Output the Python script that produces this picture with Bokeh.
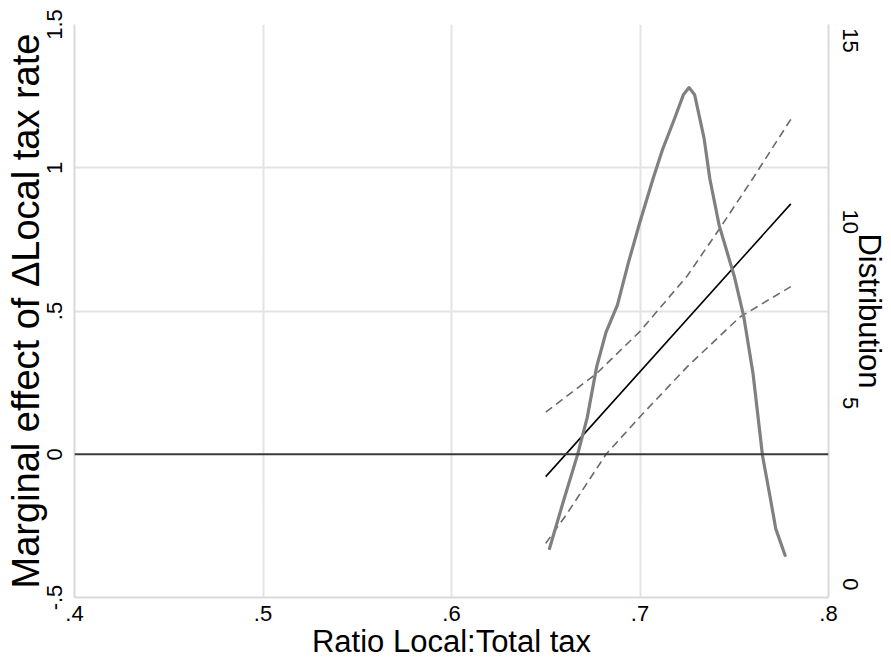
from bokeh.plotting import figure
from bokeh.models import (Range1d, LinearAxis, FixedTicker, CustomJSTickFormatter, Span)
from bokeh.embed import file_html
from bokeh.resources import INLINE

# ---- data ----
x_ticks = [0.4, 0.5, 0.6, 0.7, 0.8]
x_tick_labels = [".4", ".5", ".6", ".7", ".8"]
y_ticks = [-0.5, 0.0, 0.5, 1.0, 1.5]
y_tick_labels = ["-.5", "0", ".5", "1", "1.5"]
y2_ticks = [0, 5, 10, 15]
y2_tick_labels = ["0", "5", "10", "15"]

x_title = "Ratio Local:Total tax"
y_title = "Marginal effect of \u0394Local tax rate"
y2_title = "Distribution"

me_x = [0.650, 0.780]
me_y = [-0.078, 0.874]

upper_x = [0.650, 0.677, 0.700, 0.725, 0.7425, 0.760, 0.780]
upper_y = [0.147, 0.282, 0.429, 0.622, 0.790, 0.964, 1.169]
lower_x = [0.650, 0.661, 0.682, 0.700, 0.725, 0.753, 0.780]
lower_y = [-0.311, -0.21, 0.0, 0.131, 0.305, 0.479, 0.585]

dens_x = [0.652, 0.659, 0.667, 0.672, 0.677, 0.682, 0.688, 0.694, 0.700, 0.707,
          0.712, 0.718, 0.723, 0.726, 0.729, 0.734, 0.737, 0.742, 0.750, 0.755,
          0.760, 0.765, 0.769, 0.772, 0.777]
dens_y = [0.99, 2.23, 3.6, 4.6, 6.0, 6.96, 7.7, 8.9, 10.0, 11.2,
          12.0, 12.8, 13.5, 13.7, 13.5, 12.3, 11.2, 9.9, 8.5, 7.4,
          5.8, 3.55, 2.42, 1.54, 0.8]

FONT = "Liberation Sans"

def fmt(ticks, labels):
    return CustomJSTickFormatter(args=dict(t=ticks, l=labels), code="""
        let best = 0, bd = Infinity;
        for (let i = 0; i < t.length; i++) {
            const d = Math.abs(t[i] - tick);
            if (d < bd) { bd = d; best = i; }
        }
        return bd < 1e-6 ? l[best] : '';
    """)

p = figure(width=889, height=661, output_backend="svg", toolbar_location=None,
           x_range=Range1d(0.4, 0.8), y_range=Range1d(-0.5, 1.5),
           min_border_left=74, min_border_right=61, min_border_top=24, min_border_bottom=63)
p.outline_line_color = None
p.background_fill_color = "white"
p.border_fill_color = "white"

p.extra_y_ranges = {"dist": Range1d(-0.36, 15.44)}

def style_axis(ax, ticks, labels, vertical, title, title_size):
    ax.ticker = FixedTicker(ticks=ticks)
    ax.formatter = fmt(ticks, labels)
    ax.axis_line_color = "#d9d9d9"
    ax.axis_line_width = 2
    ax.major_tick_line_color = None
    ax.minor_tick_line_color = None
    ax.major_label_text_font = FONT
    ax.major_label_text_font_size = "22px"
    ax.major_label_text_color = "black"
    ax.axis_label = title
    ax.axis_label_text_font = FONT
    ax.axis_label_text_font_size = title_size
    ax.axis_label_text_font_style = "normal"
    ax.axis_label_text_color = "black"
    if vertical:
        ax.major_label_orientation = "vertical"

xa = p.xaxis[0]
style_axis(xa, x_ticks, x_tick_labels, False, x_title, "31px")
xa.major_label_standoff = 2
xa.axis_label_standoff = 0

ya = p.yaxis[0]
style_axis(ya, y_ticks, y_tick_labels, True, y_title, "38px")
ya.major_label_standoff = 7
ya.axis_label_standoff = -3

y2 = LinearAxis(y_range_name="dist")
style_axis(y2, y2_ticks, y2_tick_labels, True, y2_title, "31px")
y2.major_label_standoff = 8
y2.axis_label_standoff = -9
p.add_layout(y2, "right")

p.xgrid.ticker = FixedTicker(ticks=[0.5, 0.6, 0.7])
p.ygrid.ticker = FixedTicker(ticks=[0.5, 1.0])
p.xgrid.grid_line_color = "#e4e4e4"
p.ygrid.grid_line_color = "#e4e4e4"
p.xgrid.grid_line_width = 2
p.ygrid.grid_line_width = 2

p.add_layout(Span(location=0, dimension="width", line_color="#3a3a3a", line_width=2))

p.line(upper_x, upper_y, line_color="#6a6a6a", line_width=1.6, line_dash="8 5")
p.line(lower_x, lower_y, line_color="#6a6a6a", line_width=1.6, line_dash="8 5")
p.line(me_x, me_y, line_color="black", line_width=1.6)
p.line(dens_x, dens_y, y_range_name="dist", line_color="#808080", line_width=3.2,
       line_join="round", line_cap="round")

open("out.html", "w").write(file_html(p, INLINE))
